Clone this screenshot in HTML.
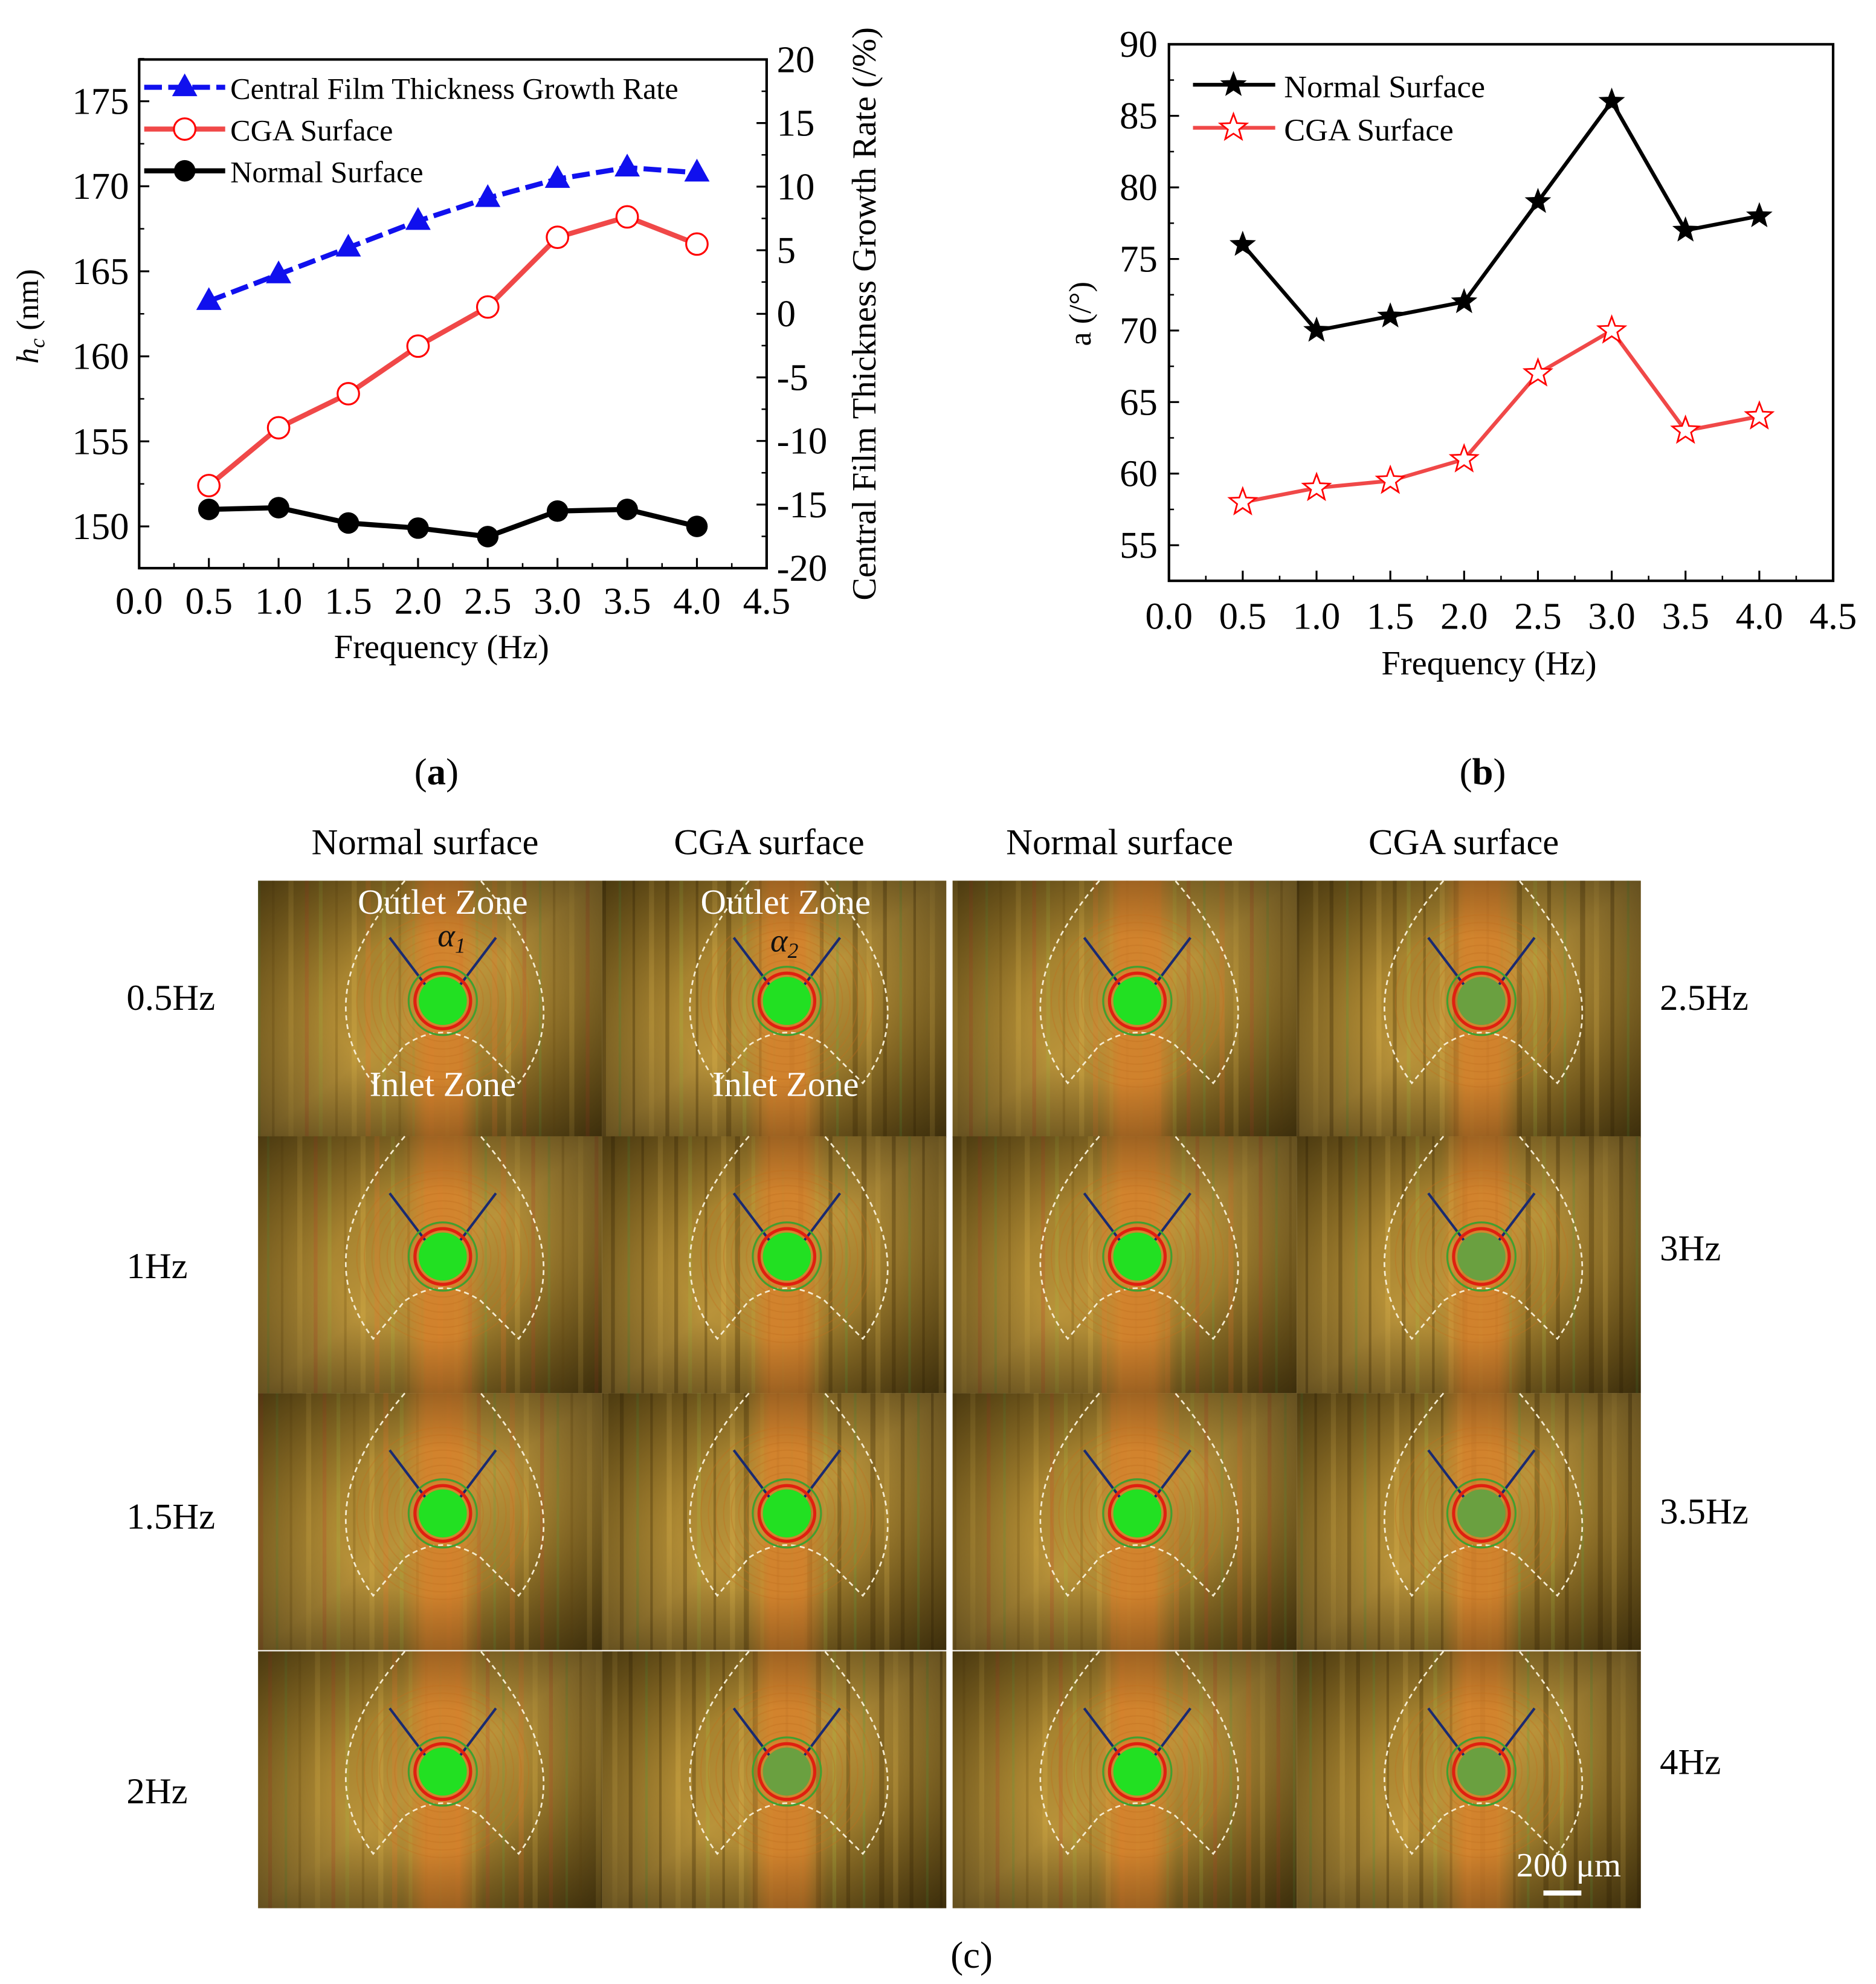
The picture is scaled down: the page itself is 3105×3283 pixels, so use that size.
<!DOCTYPE html>
<html><head><meta charset="utf-8"><style>
html,body{margin:0;padding:0;background:#fff}
svg{display:block}
text{font-family:"Liberation Serif",serif;fill:#000}
</style></head><body>
<svg id="fig" width="3105" height="3283" viewBox="0 0 1482.9 1567.9" preserveAspectRatio="none" xmlns="http://www.w3.org/2000/svg">
<defs>
<linearGradient id="tileBg" x1="0" y1="0" x2="1" y2="1">
<stop offset="0" stop-color="#8a6a1e"/><stop offset="0.5" stop-color="#b9933a"/><stop offset="1" stop-color="#6e5416"/>
</linearGradient>
<radialGradient id="vig" cx="0.5" cy="0.5" r="0.7">
<stop offset="0.4" stop-color="#000" stop-opacity="0"/><stop offset="1" stop-color="#000" stop-opacity="0.45"/>
</radialGradient>
<linearGradient id="band" x1="0" y1="0" x2="1" y2="0">
<stop offset="0" stop-color="#d98a30" stop-opacity="0"/><stop offset="0.3" stop-color="#d8822c" stop-opacity="0.85"/><stop offset="0.7" stop-color="#d8822c" stop-opacity="0.85"/><stop offset="1" stop-color="#d98a30" stop-opacity="0"/>
</linearGradient>
</defs>
<g id="chartA"></g>
<g id="chartB"></g>
<g id="photos"></g>
<text x="345" y="620" font-size="30" text-anchor="middle">(<tspan font-weight="bold">a</tspan>)</text>
<text x="1172" y="620" font-size="30" text-anchor="middle">(<tspan font-weight="bold">b</tspan>)</text>
<text x="768" y="1555" font-size="30" text-anchor="middle">(c)</text>
</svg>
<script>
const NS="http://www.w3.org/2000/svg";
function mk(p,t,a,txt){const e=document.createElementNS(NS,t);for(const k in a)e.setAttribute(k,a[k]);if(txt!==undefined)e.textContent=txt;p.appendChild(e);return e;}

// ---- Chart A data ----
const freqs=[0.5,1.0,1.5,2.0,2.5,3.0,3.5,4.0];
const growthRate=[1.0,3.1,5.2,7.3,9.1,10.6,11.5,11.1];
const cgaThickness=[152.4,155.8,157.8,160.6,162.9,167.0,168.2,166.6];
const normalThickness=[151.0,151.1,150.2,149.9,149.4,150.9,151.0,150.0];
const xTicks=[0,0.5,1,1.5,2,2.5,3,3.5,4,4.5];
const leftTicks=[150,155,160,165,170,175];
const rightTicks=[-20,-15,-10,-5,0,5,10,15,20];
// ---- Chart B data ----
const normalAngle=[76,70,71,72,79,86,77,78];
const cgaAngle=[58,59,59.5,61,67,70,63,64];
const bTicks=[55,60,65,70,75,80,85,90];

// Chart A
(function(){
const g=document.getElementById('chartA');
const L=110,R=606,T=47,B=449;
const x=f=>L+f*(R-L)/4.5;
const yl=v=>80+(175-v)*13.44;
const yr=v=>T+(20-v)*(B-T)/40;
mk(g,'rect',{x:L,y:T,width:R-L,height:B-T,fill:'none',stroke:'#000','stroke-width':2});
xTicks.forEach(t=>{mk(g,'line',{x1:x(t),x2:x(t),y1:B,y2:B-8,stroke:'#000','stroke-width':1.5});
 const lb=mk(g,'text',{x:x(t),y:B+36,'font-size':30,'text-anchor':'middle'},t.toFixed(1));
 
 });
for(let i=0;i<9;i++){const t=0.25+0.5*i;mk(g,'line',{x1:x(t),x2:x(t),y1:B,y2:B-4,stroke:'#000','stroke-width':1.2});}
leftTicks.forEach(t=>{mk(g,'line',{x1:L,x2:L+8,y1:yl(t),y2:yl(t),stroke:'#000','stroke-width':1.5});
 mk(g,'line',{x1:L,x2:L+4,y1:yl(t+2.5),y2:yl(t+2.5),stroke:'#000','stroke-width':1.2});
 const lb=mk(g,'text',{x:L-8,y:yl(t)+10,'font-size':30,'text-anchor':'end'},t);
 
 });
rightTicks.forEach(t=>{mk(g,'line',{x1:R,x2:R-8,y1:yr(t),y2:yr(t),stroke:'#000','stroke-width':1.5});
 if(t<20)mk(g,'line',{x1:R,x2:R-4,y1:yr(t+2.5),y2:yr(t+2.5),stroke:'#000','stroke-width':1.2});
 const lb=mk(g,'text',{x:R+8,y:yr(t)+10,'font-size':30},t);
 
 });
let t1=mk(g,'text',{x:349,y:520,'font-size':27,'text-anchor':'middle'},'Frequency (Hz)');

let t2=mk(g,'text',{transform:'translate(30,250) rotate(-90)','font-size':25,'text-anchor':'middle'});
t2.innerHTML='<tspan font-style="italic">h</tspan><tspan font-style="italic" font-size="17" dy="5">c</tspan><tspan dy="-5"> (nm)</tspan>';

let t3=mk(g,'text',{transform:'translate(692,248) rotate(-90)','font-size':27,'text-anchor':'middle'},'Central Film Thickness Growth Rate (/%)');

const pts=(arr,fy)=>arr.map((v,i)=>x(freqs[i])+','+fy(v)).join(' ');
let s1=mk(g,'polyline',{points:pts(growthRate,yr),fill:'none',stroke:'#1010ee','stroke-width':4,'stroke-dasharray':'14,5'});

growthRate.forEach((v,i)=>{const cx=x(freqs[i]),cy=yr(v);let m=mk(g,'polygon',{points:`${cx},${cy-11} ${cx-10},${cy+7} ${cx+10},${cy+7}`,fill:'#1010ee'});
 });
let s2=mk(g,'polyline',{points:pts(cgaThickness,yl),fill:'none',stroke:'#f04848','stroke-width':4});

cgaThickness.forEach((v,i)=>{let m=mk(g,'circle',{cx:x(freqs[i]),cy:yl(v),r:8.5,fill:'#fff',stroke:'#f00','stroke-width':1.5});
 });
let s3=mk(g,'polyline',{points:pts(normalThickness,yl),fill:'none',stroke:'#000','stroke-width':4});

normalThickness.forEach((v,i)=>{let m=mk(g,'circle',{cx:x(freqs[i]),cy:yl(v),r:8.5,fill:'#000'});
 });
const lg=mk(g,'g',{});
mk(lg,'line',{x1:114,x2:178,y1:69,y2:69,stroke:'#1010ee','stroke-width':4,'stroke-dasharray':'14,5'});
mk(lg,'polygon',{points:'146,58 136,76 156,76',fill:'#1010ee'});
mk(lg,'text',{x:182,y:78,'font-size':24},'Central Film Thickness Growth Rate');
mk(lg,'line',{x1:114,x2:178,y1:102,y2:102,stroke:'#f04848','stroke-width':4});
mk(lg,'circle',{cx:146,cy:102,r:8.5,fill:'#fff',stroke:'#f00','stroke-width':1.5});
mk(lg,'text',{x:182,y:111,'font-size':24},'CGA Surface');
mk(lg,'line',{x1:114,x2:178,y1:135,y2:135,stroke:'#000','stroke-width':4});
mk(lg,'circle',{cx:146,cy:135,r:8.5,fill:'#000'});
mk(lg,'text',{x:182,y:144,'font-size':24},'Normal Surface');
})();

function star(cx,cy,r){let p=[];for(let i=0;i<10;i++){const a=-Math.PI/2+i*Math.PI/5;const rr=i%2?r*0.42:r;p.push((cx+rr*Math.cos(a)).toFixed(1)+','+(cy+rr*Math.sin(a)).toFixed(1));}return p.join(' ');}
(function(){
const g=document.getElementById('chartB');
const L=924,R=1449,T=35,B=459;
const x=f=>L+f*(R-L)/4.5;
const y=v=>T+(90-v)*11.31;
mk(g,'rect',{x:L,y:T,width:R-L,height:B-T,fill:'none',stroke:'#000','stroke-width':2});
xTicks.forEach(t=>{mk(g,'line',{x1:x(t),x2:x(t),y1:B,y2:B-8,stroke:'#000','stroke-width':1.5});
 const lb=mk(g,'text',{x:x(t),y:B+38,'font-size':30,'text-anchor':'middle'},t.toFixed(1));
 });
for(let i=0;i<9;i++){const t=0.25+0.5*i;mk(g,'line',{x1:x(t),x2:x(t),y1:B,y2:B-4,stroke:'#000','stroke-width':1.2});}
bTicks.forEach(t=>{mk(g,'line',{x1:L,x2:L+8,y1:y(t),y2:y(t),stroke:'#000','stroke-width':1.5});
 mk(g,'line',{x1:L,x2:L+4,y1:y(t-2.5),y2:y(t-2.5),stroke:'#000','stroke-width':1.2});
 const lb=mk(g,'text',{x:L-9,y:y(t)+10,'font-size':30,'text-anchor':'end'},t);
 });
let t1=mk(g,'text',{x:1177,y:533,'font-size':27,'text-anchor':'middle'},'Frequency (Hz)');

let t2=mk(g,'text',{transform:'translate(862,248) rotate(-90)','font-size':25,'text-anchor':'middle'},'a (/°)');

const pts=arr=>arr.map((v,i)=>x(freqs[i])+','+y(v)).join(' ');
let s1=mk(g,'polyline',{points:pts(normalAngle),fill:'none',stroke:'#000','stroke-width':3});

normalAngle.forEach((v,i)=>{let m=mk(g,'polygon',{points:star(x(freqs[i]),y(v),11),fill:'#000'});
 });
let s2=mk(g,'polyline',{points:pts(cgaAngle),fill:'none',stroke:'#f04848','stroke-width':3});

cgaAngle.forEach((v,i)=>{let m=mk(g,'polygon',{points:star(x(freqs[i]),y(v),11),fill:'#fff',stroke:'#f00','stroke-width':1.3});
 });
const lg=mk(g,'g',{});
mk(lg,'line',{x1:943,x2:1008,y1:67,y2:67,stroke:'#000','stroke-width':3});
mk(lg,'polygon',{points:star(975,67,11),fill:'#000'});
mk(lg,'text',{x:1015,y:77,'font-size':25},'Normal Surface');
mk(lg,'line',{x1:943,x2:1008,y1:101,y2:101,stroke:'#f04848','stroke-width':3});
mk(lg,'polygon',{points:star(975,101,11),fill:'#fff',stroke:'#f00','stroke-width':1.3});
mk(lg,'text',{x:1015,y:111,'font-size':25},'CGA Surface');
})();

(function(){
const g=document.getElementById('photos');
const colX=[204,476,753,1025];const rowY=[696,898,1101,1305];const W=272,H=203;
const colTitles=['Normal surface','CGA surface','Normal surface','CGA surface'];
const leftLabels=['0.5Hz','1Hz','1.5Hz','2Hz'];const rightLabels=['2.5Hz','3Hz','3.5Hz','4Hz'];
const leftLabelY=[798,1010,1208,1425];const rightLabelY=[798,996,1204,1402];
colTitles.forEach((t,i)=>{let e=mk(g,'text',{x:colX[i]+W/2-4,y:675,'font-size':29,'text-anchor':'middle'},t);
 });
leftLabels.forEach((t,i)=>{let e=mk(g,'text',{x:100,y:leftLabelY[i],'font-size':29},t);
 });
rightLabels.forEach((t,i)=>{let e=mk(g,'text',{x:1312,y:rightLabelY[i],'font-size':29},t);
 });
const stripeCols=['#6fa040','#c0542a','#d9b24a','#7a5a18','#a8b040','#e07a30'];
colX.forEach((cx0,ci)=>rowY.forEach((ry,ri)=>{
 const t=mk(g,'g',{});
 const cga=ci%2===1;
 mk(t,'rect',{x:cx0,y:ry,width:W,height:H,fill:'url(#tileBg)'});
 for(let k=0;k<22;k++){const sx=cx0+((k*37+ci*13+ri*7)%W);mk(t,'rect',{x:sx,y:ry,width:2+(k%3),height:H,fill:cga&&k%2?'#4a3508':stripeCols[k%6],opacity:cga?0.35:0.3});}
 const mx=cx0+W/2+10,my=ry+95;
 mk(t,'rect',{x:mx-32,y:ry,width:64,height:H,fill:'url(#band)'});
 mk(t,'rect',{x:cx0,y:ry,width:W,height:H,fill:'url(#vig)'});
 for(let r=26;r<70;r+=6)mk(t,'circle',{cx:mx,cy:my,r:r,fill:'none',stroke:'#c07020','stroke-width':1,opacity:0.35});
 mk(t,'path',{d:`M${mx-30},${ry} C${mx-90},${ry+70} ${mx-85},${ry+120} ${mx-55},${ry+160} L${mx-30},${ry+130} Q${mx},${ry+110} ${mx+30},${ry+130} L${mx+60},${ry+160} C${mx+90},${ry+120} ${mx+90},${ry+70} ${mx+30},${ry}`,fill:'none',stroke:'#f5ecd0','stroke-width':1.3,'stroke-dasharray':'4,3'});
 mk(t,'line',{x1:mx-14,y1:my-13,x2:mx-42,y2:my-50,stroke:'#1a2a70','stroke-width':2});
 mk(t,'line',{x1:mx+14,y1:my-13,x2:mx+42,y2:my-50,stroke:'#1a2a70','stroke-width':2});
 mk(t,'circle',{cx:mx,cy:my,r:22,fill:'none',stroke:'#e02010','stroke-width':2.5});
 mk(t,'circle',{cx:mx,cy:my,r:27,fill:'none',stroke:'#40a030','stroke-width':1.5});
 mk(t,'circle',{cx:mx,cy:my,r:19,fill:cga&&(ci===3||ri===3)?'#6aa040':'#22e022'});
}));
[[350,722,'Outlet Zone'],[621,722,'Outlet Zone'],[350,866,'Inlet Zone'],[621,866,'Inlet Zone']].forEach(a=>{
 let e=mk(g,'text',{x:a[0],y:a[1],'font-size':28,'text-anchor':'middle',style:'fill:#fff'},a[2]);
 });
[[357,748,'1'],[620,752,'2']].forEach(a=>{
 let e=mk(g,'text',{x:a[0],y:a[1],'font-size':26,'text-anchor':'middle','font-style':'italic',style:'fill:#111'});
 e.innerHTML='α<tspan font-size="17" dy="5">'+a[2]+'</tspan>';
 });
let sb=mk(g,'text',{x:1240,y:1483,'font-size':27,'text-anchor':'middle',style:'fill:#fff'},'200 μm');

let sl=mk(g,'rect',{x:1220,y:1494,width:30,height:4,fill:'#fff'});

})();
</script>
</body></html>
